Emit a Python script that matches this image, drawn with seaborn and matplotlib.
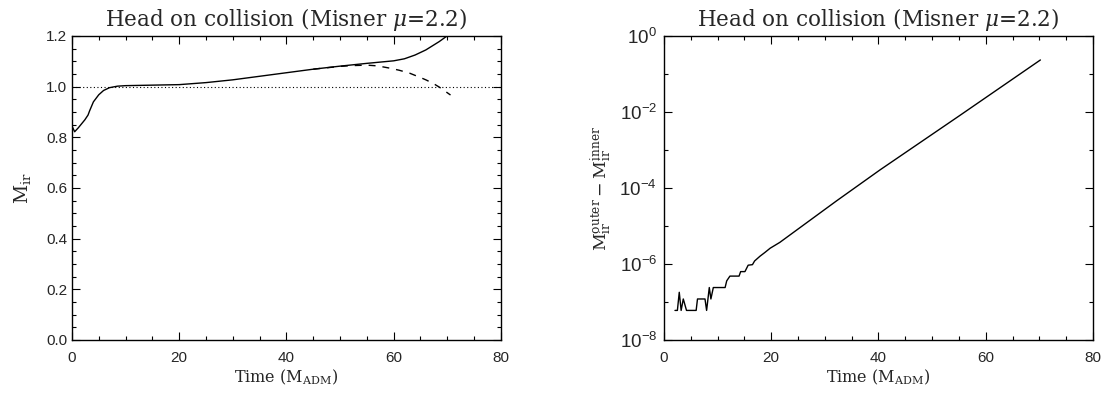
import numpy as np
import pandas as pd
import matplotlib
matplotlib.use("Agg")
import matplotlib.pyplot as plt
import matplotlib.ticker as mticker
import seaborn as sns

# ---------------- data ----------------
title_text = "Head on collision (Misner $\\mu$=2.2)"

# left panel: irreducible mass (solid) and alternative (dashed)
t_solid = [0.0, 0.5, 1.2, 2.4, 3.0, 3.3, 4.0, 5.0, 5.9, 7.0, 8.5, 10.0, 15.0, 20.0,
           25.0, 30.0, 35.0, 40.0, 45.0, 50.0, 55.0, 60.0, 62.0, 64.0, 66.0, 68.5, 70.6]
m_solid = [0.845, 0.822, 0.838, 0.869, 0.888, 0.905, 0.940, 0.968, 0.985, 0.996, 1.002,
           1.004, 1.006, 1.008, 1.016, 1.027, 1.041, 1.055, 1.069, 1.081, 1.092, 1.102,
           1.110, 1.125, 1.145, 1.178, 1.210]
t_dashed = [45.0, 50.0, 52.0, 55.0, 57.0, 59.3, 61.0, 63.0, 65.0, 66.1, 67.5, 68.6, 70.6]
m_dashed = [1.069, 1.080, 1.083, 1.085, 1.082, 1.073, 1.065, 1.053, 1.036, 1.026, 1.011,
            0.997, 0.967]
ref_level = [1.0, 1.0]
ref_t = [0.0, 80.0]

# right panel: M_ir(outer) - M_ir(inner)
t_diff = [2.05, 2.5, 2.85, 3.2, 3.6, 4.2, 6.0, 6.25, 7.65, 7.95, 8.45, 8.75, 9.2, 9.7,
          11.4, 11.7, 12.3, 14.0, 14.3, 15.1, 15.7, 16.5, 16.9, 17.9, 18.8, 19.8, 21.6,
          32.2, 40.3, 55.0, 70.2]
m_diff = [6e-8, 6e-8, 1.8e-7, 6e-8, 1.2e-7, 6e-8, 6e-8, 1.2e-7, 1.2e-7, 6e-8, 2.4e-7,
          1.2e-7, 2.4e-7, 2.4e-7, 2.4e-7, 3.6e-7, 4.8e-7, 4.8e-7, 6.3e-7, 6.3e-7, 9.3e-7,
          9.6e-7, 1.2e-6, 1.6e-6, 2.0e-6, 2.6e-6, 3.7e-6, 4.6e-5, 3.0e-4, 7.8e-3, 0.234]

left_yticks = [0.0, 0.2, 0.4, 0.6, 0.8, 1.0, 1.2]
x_ticks = [0, 20, 40, 60, 80]
log_major = [1e-8, 1e-6, 1e-4, 1e-2, 1e0]
log_minor = [1e-7, 1e-5, 1e-3, 1e-1]

# ---------------- style ----------------
sns.set_style("ticks")
plt.rcParams["font.family"] = ["Liberation Sans", "DejaVu Sans"]
plt.rcParams["mathtext.fontset"] = "dejavuserif"

serif = ["DejaVu Serif"]

fig = plt.figure(figsize=(11.07, 3.93), dpi=100)
ax1 = fig.add_axes([0.065, 0.1349, 0.3875, 0.7735])
ax2 = fig.add_axes([0.5998, 0.1349, 0.3875, 0.7735])

df_s = pd.DataFrame({"t": t_solid, "m": m_solid})
df_d = pd.DataFrame({"t": t_dashed, "m": m_dashed})
df_r = pd.DataFrame({"t": ref_t, "m": ref_level})
df_diff = pd.DataFrame({"t": t_diff, "m": m_diff})

sns.lineplot(data=df_r, x="t", y="m", ax=ax1, color="black", lw=0.8,
             linestyle=(0, (1, 2.2)), estimator=None, sort=False)
sns.lineplot(data=df_d, x="t", y="m", ax=ax1, color="black", lw=1.0,
             linestyle=(0, (5, 5)), estimator=None, sort=False)
sns.lineplot(data=df_s, x="t", y="m", ax=ax1, color="black", lw=1.0,
             estimator=None, sort=False)
sns.lineplot(data=df_diff, x="t", y="m", ax=ax2, color="black", lw=1.0,
             estimator=None, sort=False)

for ax in (ax1, ax2):
    ax.set_xlim(0, 80)
    ax.set_xticks(x_ticks)
    ax.xaxis.set_minor_locator(mticker.MultipleLocator(5))
    ax.tick_params(which="both", direction="in", top=True, right=True,
                   labelsize=11, color="black", width=0.8)
    ax.tick_params(which="major", length=5.5)
    ax.tick_params(which="minor", length=3)
    ax.tick_params(axis="x", pad=8)
    for sp in ax.spines.values():
        sp.set_linewidth(1.0)
        sp.set_color("black")
    ax.set_title(title_text, fontfamily=serif, fontsize=15.5, pad=7)
    ax.set_xlabel(r"Time ($\mathrm{M}_{\mathrm{ADM}}$)", fontfamily=serif,
                  fontsize=11.5, labelpad=2)

ax1.set_ylim(0, 1.2)
ax1.set_yticks(left_yticks)
ax1.set_yticklabels([f"{v:.1f}" for v in left_yticks])
ax1.yaxis.set_minor_locator(mticker.MultipleLocator(0.05))
ax1.set_ylabel(r"$\mathrm{M}_{\mathrm{ir}}$", fontsize=13.5, labelpad=9)

ax2.set_yscale("log")
ax2.set_ylim(1e-8, 1e0)
ax2.yaxis.set_major_locator(mticker.FixedLocator(log_major))
ax2.yaxis.set_minor_locator(mticker.FixedLocator(log_minor))
ax2.yaxis.set_minor_formatter(mticker.NullFormatter())
ax2.yaxis.set_major_formatter(mticker.FuncFormatter(
    lambda v, p: r"$\mathregular{10^{%d}}$" % int(round(np.log10(v)))))
ax2.tick_params(axis="y", labelsize=13.5, pad=5)
ax2.set_ylabel(r"$\mathrm{M}_{\mathrm{ir}}^{\mathrm{outer}}-\mathrm{M}_{\mathrm{ir}}^{\mathrm{inner}}$",
               fontsize=12.5, labelpad=3)

fig.savefig("out.png", dpi=100)
